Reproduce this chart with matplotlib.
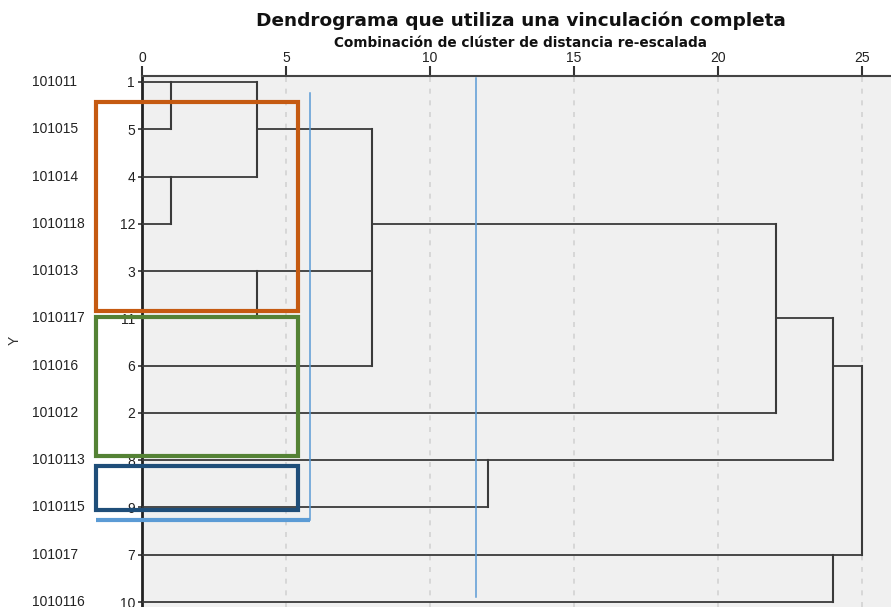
import matplotlib
matplotlib.use("Agg")
import matplotlib.pyplot as plt
from matplotlib.patches import Rectangle
from matplotlib.transforms import blended_transform_factory

plt.rcParams['font.family'] = ['Liberation Sans', 'DejaVu Sans']

# ---- data ----
leaf_numbers = ["1", "5", "4", "12", "3", "11", "6", "2", "8", "9", "7", "10"]
leaf_codes = ["101011", "101015", "101014", "1010118", "101013", "1010117",
              "101016", "101012", "1010113", "1010115", "101017", "1010116"]
# merges: (children node ids, distance, row where the joined branch continues)
# leaves are node ids 0..11 (row order), merged nodes get ids 12, 13, ...
merge_children = [[0, 1], [2, 3], [12, 13], [4, 5], [14, 15, 6], [16, 7],
                  [8, 9], [17, 18], [10, 11], [19, 20]]
merge_dist = [1, 1, 4, 4, 8, 22, 12, 24, 24, 25]
merge_row = [0, 2, 1, 4, 3, 5, 8, 6, 10, 7]
x_ticks = [0, 5, 10, 15, 20, 25]

# annotation overlays (distance units, row units)
boxes = [  # (x0, x1, y0, y1, color)
    (-1.6, 5.42, 0.42, 4.84, "#c55a11"),
    (-1.6, 5.42, 4.97, 7.91, "#548235"),
    (-1.6, 5.42, 8.12, 9.05, "#1f4e79"),
]
cut_lines = [(5.83, 0.23, 9.26), (11.6, -0.08, 10.89)]
cut_base = (-1.6, 5.83, 9.26)

W, H = 891, 607
fig = plt.figure(figsize=(W / 100, H / 100), dpi=100)
ax = fig.add_axes([142 / W, 0, 1 - 142 / W, 1 - 76 / H])
ax.set_facecolor("#f0f0f0")

n = len(leaf_numbers)
ax.set_xlim(0, 26.0)
ax.set_ylim(11 + 5 / 47.3, -6 / 47.3)

# grid
for t in x_ticks[1:]:
    ax.axvline(t, color="#d2d2d2", lw=1.2, ls=(0, (3, 4)), zorder=1)

# dendrogram
node_row = list(range(n))
node_dist = [0] * n
lc = "#3a3a3a"
for ch, d, r in zip(merge_children, merge_dist, merge_row):
    rows = [node_row[c] for c in ch]
    for c in ch:
        ax.plot([node_dist[c], d], [node_row[c], node_row[c]], color=lc, lw=1.3,
                solid_capstyle="butt", zorder=3)
    ax.plot([d, d], [min(rows), max(rows)], color=lc, lw=1.5,
            solid_capstyle="projecting", zorder=3)
    node_row.append(r)
    node_dist.append(d)

# axes styling
for s in ["right", "bottom"]:
    ax.spines[s].set_visible(False)
ax.spines["top"].set_color("#444444")
ax.spines["top"].set_linewidth(1.5)
ax.spines["left"].set_color("#222222")
ax.spines["left"].set_linewidth(2.0)
ax.xaxis.tick_top()
ax.set_xticks(x_ticks)
ax.set_xticklabels([str(t) for t in x_ticks])
ax.tick_params(axis="x", direction="out", length=7, width=1.5, color="#333333",
               labelsize=10, labelcolor="#222222", pad=1)
ax.set_yticks(range(n))
ax.set_yticklabels(leaf_numbers)
ax.tick_params(axis="y", direction="out", length=3, width=1.2, color="#333333",
               labelsize=10, labelcolor="#222222", pad=2)

trans = blended_transform_factory(fig.transFigure, ax.transData)
for i, code in enumerate(leaf_codes):
    ax.text(32 / W, i, code, transform=trans, ha="left", va="center",
            fontsize=10, color="#222222", clip_on=False)

fig.text(15 / W, 1 - 340 / H, "Y", rotation=90, ha="center", va="center",
         fontsize=10, color="#333333")
fig.text(521 / W, 1 - 21 / H, "Dendrograma que utiliza una vinculación completa",
         ha="center", va="center", fontsize=13.3, fontweight="bold", color="#111111",
         family="DejaVu Sans")
fig.text(521 / W, 1 - 43 / H, "Combinación de clúster de distancia re-escalada",
         ha="center", va="center", fontsize=9.8, fontweight="bold", color="#111111",
         family="DejaVu Sans")

# overlays
for x0, x1, y0, y1, c in boxes:
    ax.add_patch(Rectangle((x0, y0), x1 - x0, y1 - y0, fill=False, edgecolor=c,
                           lw=3, clip_on=False, zorder=6))
for x, y0, y1 in cut_lines:
    ax.plot([x, x], [y0, y1], color="#5b9bd5", lw=1.1, clip_on=False, zorder=6)
bx0, bx1, by = cut_base
ax.plot([bx0, bx1], [by, by], color="#5b9bd5", lw=3, clip_on=False, zorder=6,
        solid_capstyle="butt")

fig.savefig("out.png", dpi=100)
